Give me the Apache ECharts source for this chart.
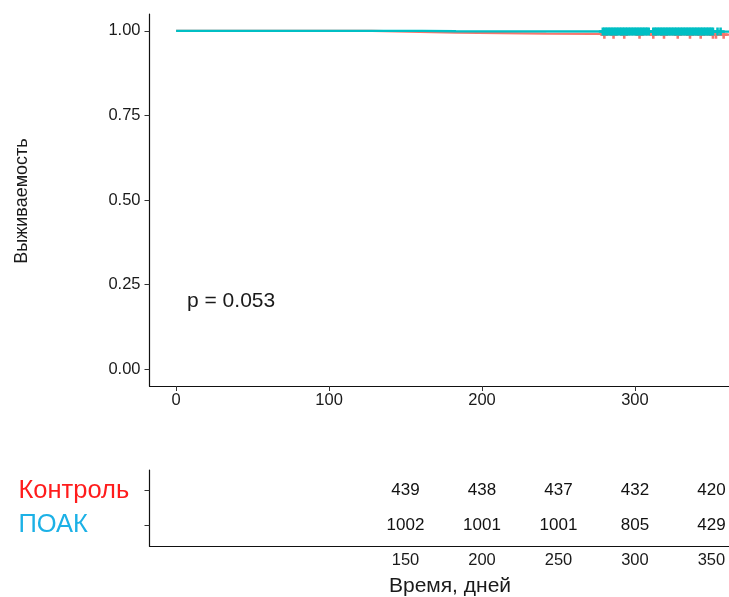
<!DOCTYPE html>
<html>
<head>
<meta charset="utf-8">
<script src="https://cdn.jsdelivr.net/npm/echarts@6/dist/echarts.min.js"></script>
<style>html,body{margin:0;padding:0;background:#fff}#c{width:729px;height:597px}</style>
</head>
<body>
<div id="c"></div>
<script>
// ---- data ----
var groupNames = ['Контроль', 'ПОАК'];
var groupColors = ['#F8766D', '#00BFC4'];
var labelColors = ['#ff1c1c', '#1cb1e6'];
// Kaplan-Meier step points [time, survival]
var kmControl = [[0, 1], [128, 0.995], [183, 0.992], [242, 0.989], [365, 0.989]];
var kmPoak = [[0, 1], [161, 0.9988], [183, 0.998], [365, 0.998]];
// censoring times
var censorControl = [280, 286, 293, 303, 312, 319, 328, 336, 343, 351, 353, 358];
var censorPoak = [279, 280, 281, 282, 283, 284, 285, 286, 287, 288, 289, 290, 291, 292, 293, 294, 295, 296, 297, 298, 299, 300, 301, 302, 303, 304, 305, 306, 307, 308, 309,
  312, 313, 314, 315, 316, 317, 318, 319, 320, 321, 322, 323, 324, 325, 326, 327, 328, 329, 330, 331, 332, 333, 334, 335, 336, 337, 338, 339, 340, 341, 342, 343, 344, 345, 346, 347, 348, 349, 350, 351, 354, 356];
var yTicks = [0, 0.25, 0.5, 0.75, 1];
var xTicks = [0, 100, 200, 300];
var riskTimes = [150, 200, 250, 300, 350];
var riskControl = [439, 438, 437, 432, 420];
var riskPoak = [1002, 1001, 1001, 805, 429];
var pText = 'p = 0.053';
var yTitle = 'Выживаемость';
var xTitle = 'Время, дней';

function survAt(km, t) {
  var s = km[0][1];
  for (var i = 0; i < km.length; i++) { if (km[i][0] <= t) s = km[i][1]; }
  return s;
}
var plus = 'path://M0.34,0H0.66V0.34H1V0.66H0.66V1H0.34V0.66H0V0.34H0.34Z';
var FONT = '"Liberation Sans", Arial, sans-serif';
var XMIN = -17.4, XMAX = 361.5;
var TXT = '#1a1a1a';

var chart = echarts.init(document.getElementById('c'), null, {renderer: 'canvas'});
var axisLineStyle = {color: '#111', width: 1.2};
var option = {
  animation: false,
  backgroundColor: '#fff',
  grid: [
    {left: 149.5, right: 0, top: 14, height: 372},
    {left: 149.5, right: 0, top: 470, height: 76}
  ],
  xAxis: [
    {gridIndex: 0, type: 'value', min: XMIN, max: XMAX,
      axisLine: {show: true, onZero: false, lineStyle: axisLineStyle},
      axisTick: {show: true, length: 5, customValues: xTicks, lineStyle: {color: '#333'}},
      axisLabel: {customValues: xTicks, margin: 6, fontSize: 16.5, fontFamily: FONT, color: TXT},
      splitLine: {show: false}},
    {gridIndex: 1, type: 'value', min: XMIN, max: XMAX,
      axisLine: {show: true, onZero: false, lineStyle: axisLineStyle},
      axisTick: {show: false},
      axisLabel: {customValues: riskTimes, margin: 6, fontSize: 16.5, fontFamily: FONT, color: TXT},
      splitLine: {show: false}}
  ],
  yAxis: [
    {gridIndex: 0, type: 'value', min: -0.05, max: 1.05,
      axisLine: {show: true, onZero: false, lineStyle: axisLineStyle},
      axisTick: {show: true, length: 5, customValues: yTicks, lineStyle: {color: '#333'}},
      axisLabel: {customValues: yTicks, margin: 9, fontSize: 16.5, fontFamily: FONT, color: TXT,
        formatter: function (v) { return v.toFixed(2); }},
      splitLine: {show: false}},
    {gridIndex: 1, type: 'value', min: 0.4, max: 2.6,
      axisLine: {show: true, onZero: false, lineStyle: axisLineStyle},
      axisTick: {show: true, length: 5, customValues: [1, 2], lineStyle: {color: '#333'}},
      axisLabel: {customValues: [1, 2], margin: 131, align: 'left', fontSize: 25.5, fontFamily: FONT,
        formatter: function (v) { return v === 2 ? groupNames[0] : groupNames[1]; },
        color: function (v) { return Number(v) === 2 ? labelColors[0] : labelColors[1]; }},
      splitLine: {show: false}}
  ],
  series: [
    {type: 'line', xAxisIndex: 0, yAxisIndex: 0, step: 'end', data: kmControl, showSymbol: false, symbol: 'none',
      lineStyle: {color: groupColors[0], width: 2.4}, z: 2},
    {type: 'scatter', xAxisIndex: 0, yAxisIndex: 0, symbol: plus, symbolSize: 8,
      data: censorControl.map(function (t) { return [t, survAt(kmControl, t)]; }),
      itemStyle: {color: groupColors[0], opacity: 1}, z: 3},
    {type: 'line', xAxisIndex: 0, yAxisIndex: 0, step: 'end', data: kmPoak, showSymbol: false, symbol: 'none',
      lineStyle: {color: groupColors[1], width: 2.4}, z: 4},
    {type: 'scatter', xAxisIndex: 0, yAxisIndex: 0, symbol: plus, symbolSize: 8,
      data: censorPoak.map(function (t) { return [t, survAt(kmPoak, t)]; }),
      itemStyle: {color: groupColors[1], opacity: 1}, z: 5},
    {type: 'scatter', xAxisIndex: 1, yAxisIndex: 1, symbol: 'circle', symbolSize: 0.01,
      itemStyle: {color: '#ffffff', opacity: 1},
      data: riskTimes.map(function (t, i) { return [t, 2, riskControl[i]]; }).concat(
        riskTimes.map(function (t, i) { return [t, 1, riskPoak[i]]; })),
      label: {show: true, position: 'inside', opacity: 1, formatter: function (p) { return String(p.value[2]); },
        fontSize: 17, fontFamily: FONT, color: '#111', textBorderWidth: 0}}
  ],
  graphic: [
    {type: 'text', left: 187, top: 291, style: {text: pText, fontSize: 21, fontFamily: FONT, fill: TXT}},
    {type: 'text', x: 22, y: 201, rotation: Math.PI / 2,
      style: {text: yTitle, fontSize: 18, fontFamily: FONT, fill: TXT, align: 'center', verticalAlign: 'middle'}},
    {type: 'text', x: 450, y: 586,
      style: {text: xTitle, fontSize: 21, fontFamily: FONT, fill: TXT, align: 'center', verticalAlign: 'middle'}}
  ]
};
chart.setOption(option);
</script>
</body>
</html>
